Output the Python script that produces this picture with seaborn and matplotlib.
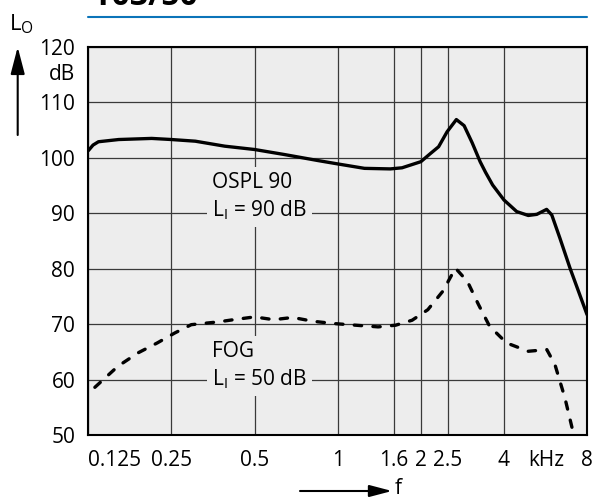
import matplotlib
matplotlib.use('Agg')
import matplotlib.pyplot as plt
from matplotlib.lines import Line2D
from matplotlib.ticker import FixedLocator, FixedFormatter
import seaborn as sns

# OSPL 90 curve, input level 90 dB (frequency in kHz, level in dB)
ospl_freq = [0.125, 0.13, 0.136, 0.161, 0.212, 0.25, 0.305, 0.39, 0.5, 0.64, 0.85, 1.0,
             1.25, 1.55, 1.71, 2.0, 2.17, 2.32, 2.49, 2.69, 2.87, 3.07, 3.28, 3.43,
             3.64, 4.0, 4.45, 4.9, 5.26, 5.71, 5.96, 6.38, 6.94, 8.0]
ospl_level = [101.3, 102.3, 102.9, 103.3, 103.5, 103.3, 103.0, 102.1, 101.5, 100.6, 99.5, 98.9,
              98.1, 98.0, 98.2, 99.3, 100.8, 102.0, 104.7, 106.9, 105.8, 102.7, 99.3, 97.4,
              95.1, 92.4, 90.3, 89.6, 89.8, 90.7, 89.7, 85.5, 80.1, 71.7]

# full-on gain curve, input level 50 dB
fog_freq = [0.132, 0.16, 0.189, 0.222, 0.257, 0.295, 0.369, 0.42, 0.5, 0.586, 0.687, 0.817,
            0.971, 1.164, 1.4, 1.62, 1.86, 2.12, 2.4, 2.67, 2.95, 3.23, 3.55, 4.09,
            4.9, 5.72, 6.12, 6.65, 7.13]
fog_level = [58.6, 62.4, 64.8, 66.6, 68.4, 69.9, 70.4, 70.8, 71.3, 70.8, 71.2, 70.5,
             70.1, 69.8, 69.5, 69.8, 70.7, 72.6, 75.9, 80.1, 77.7, 73.6, 69.6, 66.6,
             65.1, 65.4, 62.7, 56.7, 50.4]

freq_ticks = [0.125, 0.25, 0.5, 1, 1.6, 2, 2.5, 4, 8]
freq_labels = ['0.125', '0.25', '0.5', '1', '1.6', '2', '2.5', '4', '8']
level_ticks = [50, 60, 70, 80, 90, 100, 110, 120]

bg = '#ededed'
sns.set_style('white')
plt.rcParams['font.family'] = ['Open Sans', 'DejaVu Sans']
plt.rcParams['text.color'] = 'black'

fig = plt.figure(figsize=(5.96, 4.99), dpi=100)
ax = fig.add_axes([0.1482, 0.1283, 0.8368, 0.7776])
ax.set_facecolor(bg)

sns.lineplot(x=ospl_freq, y=ospl_level, ax=ax, color='black', linewidth=2.4, zorder=4)
sns.lineplot(x=fog_freq, y=fog_level, ax=ax, color='black', linewidth=2.4,
             linestyle=(0, (2.2, 3.4)), dash_capstyle='round', zorder=4)

ax.set_xscale('log')
ax.set_xlim(0.125, 8)
ax.set_ylim(50, 120)
ax.set_xticks(freq_ticks)
ax.set_xticklabels(freq_labels)
ax.xaxis.set_minor_locator(FixedLocator([5.7]))
ax.xaxis.set_minor_formatter(FixedFormatter(['kHz']))
ax.set_yticks(level_ticks)
ax.tick_params(axis='both', which='both', length=0, labelsize=15, colors='black')
ax.tick_params(axis='x', which='both', pad=11)
ax.tick_params(axis='y', pad=9.5)
ax.get_xticklabels()[0].set_horizontalalignment('left')
ax.set_xlabel('')
ax.set_ylabel('')

ax.set_axisbelow(True)
ax.grid(True, which='major', color='#3a3a3a', linewidth=0.9)
for sp in ax.spines.values():
    sp.set_color('black')
    sp.set_linewidth(1.5)

box = dict(boxstyle='square,pad=0.25', fc=bg, ec='none')
ax.text(0.35, 93.0, 'OSPL 90\nL$_\\mathregular{I}$ = 90 dB', fontsize=15, ha='left',
        va='center', linespacing=1.3, bbox=box, zorder=3)
ax.text(0.35, 62.5, 'FOG\nL$_\\mathregular{I}$ = 50 dB', fontsize=15, ha='left',
        va='center', linespacing=1.3, bbox=box, zorder=3)

# unit label under the top tick
ax.text(-0.0267, 115, 'dB', transform=ax.get_yaxis_transform(), fontsize=15,
        ha='right', va='center')

# header: title (cut off at the top) and blue rule
fig.text(93 / 596, 1 - 5 / 499, 'T03/50', fontsize=23, fontweight='bold', va='baseline')
fig.add_artist(Line2D([88.3 / 596, 587 / 596], [1 - 17 / 499] * 2, color='#0b74b9', linewidth=1.5))

# axis names with arrows
fig.text(9 / 596, 1 - 24 / 499, 'L$_\\mathregular{O}$', fontsize=16, va='center')
fig.text(395 / 596, 1 - 488 / 499, 'f', fontsize=15, va='center')
ax.annotate('', xy=(17.7 / 596, 1 - 47 / 499), xytext=(17.7 / 596, 1 - 135 / 499),
            xycoords='figure fraction', textcoords='figure fraction',
            arrowprops=dict(arrowstyle='-|>,head_length=1.65,head_width=0.43',
                            mutation_scale=10, color='black', lw=1.5, shrinkA=0, shrinkB=0))
ax.annotate('', xy=(392 / 596, 1 - 491 / 499), xytext=(300 / 596, 1 - 491 / 499),
            xycoords='figure fraction', textcoords='figure fraction',
            arrowprops=dict(arrowstyle='-|>,head_length=1.37,head_width=0.36',
                            mutation_scale=10, color='black', lw=1.5, shrinkA=0, shrinkB=0))

fig.savefig('out.png', dpi=100)
